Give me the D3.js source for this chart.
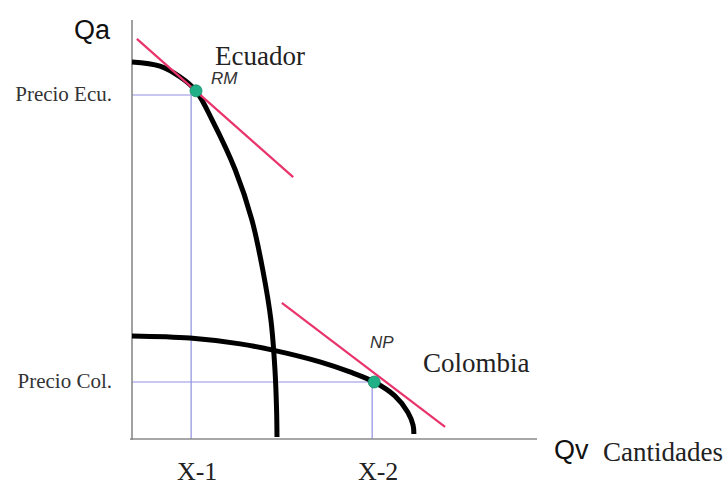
<!DOCTYPE html>
<html>
<head>
<meta charset="utf-8">
<script src="https://cdn.jsdelivr.net/npm/d3@7"></script>
<style>
  html, body { margin: 0; padding: 0; background: #ffffff; }
  svg { display: block; }
</style>
</head>
<body>
<svg id="chart" width="728" height="486"></svg>
<script>
// ---- Data (in abstract units: 0..100 on each axis) ----
const ecuadorCurve = [
  [0, 90.0], [6.9, 89.0], [11.9, 86.4], [15.8, 83.1], [19.8, 76.1],
  [25.5, 64.2], [29.6, 52.3], [32.3, 40.3], [34.3, 28.4],
  [35.3, 16.5], [35.7, 6.9], [35.8, 0.5]
];
const colombiaCurve = [
  [0, 24.6], [14.3, 24.1], [26.7, 22.7], [34.8, 21.2], [46.4, 18.4],
  [53.8, 16.0], [59.8, 13.6], [64.9, 10.3], [68.1, 6.4], [69.4, 3.3], [69.6, 1.2]
];
const priceLines = [
  { name: "Ecuador", from: [1.2, 95.5], to: [39.8, 62.5] },
  { name: "Colombia", from: [37.0, 32.5], to: [77.3, 2.9] }
];
const equilibriumPoints = [
  { label: "RM", x: 15.8, y: 83.1 },
  { label: "NP", x: 59.8, y: 13.6 }
];
const guideX = [14.6, 59.3];        // X-1, X-2
const guideY = [82.1, 13.6];        // Precio Ecu., Precio Col.
const xTickLabels = ["X-1", "X-2"];
const yTickLabels = ["Precio Ecu.", "Precio Col."];
const curveNames = ["Ecuador", "Colombia"];
const axisTitles = { y: "Qa", x: "Qv", xUnit: "Cantidades" };

// ---- Layout ----
const svg = d3.select("#chart");
const x = d3.scaleLinear().domain([0, 100]).range([132, 537]);
const y = d3.scaleLinear().domain([0, 100]).range([439, 20]);

const serif = "'Liberation Serif', 'Times New Roman', serif";
const sans = "'Liberation Sans', Arial, sans-serif";

// guides
const guideColor = "#8f8fe0";
guideX.forEach((gx, i) => {
  svg.append("line")
    .attr("x1", x(gx)).attr("x2", x(gx))
    .attr("y1", y(guideY[i])).attr("y2", y(0))
    .attr("stroke", guideColor).attr("stroke-width", 1.2);
  svg.append("line")
    .attr("x1", x(0)).attr("x2", x(gx))
    .attr("y1", y(guideY[i])).attr("y2", y(guideY[i]))
    .attr("stroke", guideColor).attr("stroke-width", 1.2);
});

// axes
svg.append("line")
  .attr("x1", x(0)).attr("x2", x(0)).attr("y1", y(100)).attr("y2", y(0) + 1)
  .attr("stroke", "#8a8a8a").attr("stroke-width", 1.6);
svg.append("line")
  .attr("x1", x(0) - 2).attr("x2", x(100)).attr("y1", y(0)).attr("y2", y(0))
  .attr("stroke", "#8a8a8a").attr("stroke-width", 1.6);

// curves
const line = d3.line().x(d => x(d[0])).y(d => y(d[1])).curve(d3.curveCatmullRom.alpha(0.5));
[ecuadorCurve, colombiaCurve].forEach(c => {
  svg.append("path").attr("d", line(c))
    .attr("fill", "none").attr("stroke", "#000").attr("stroke-width", 5)
    .attr("stroke-linecap", "butt");
});

// price lines
priceLines.forEach(p => {
  svg.append("line")
    .attr("x1", x(p.from[0])).attr("y1", y(p.from[1]))
    .attr("x2", x(p.to[0])).attr("y2", y(p.to[1]))
    .attr("stroke", "#e8336b").attr("stroke-width", 2.2);
});

// points
svg.selectAll("circle.pt").data(equilibriumPoints).enter().append("circle")
  .attr("class", "pt")
  .attr("cx", d => x(d.x)).attr("cy", d => y(d.y)).attr("r", 6)
  .attr("fill", "#1fb088").attr("stroke", "#128a66").attr("stroke-width", 0.8);

// point labels
svg.append("text").attr("x", 211).attr("y", 84)
  .attr("font-family", sans).attr("font-style", "italic").attr("font-size", 17)
  .attr("fill", "#333").text(equilibriumPoints[0].label);
svg.append("text").attr("x", 370).attr("y", 348)
  .attr("font-family", sans).attr("font-style", "italic").attr("font-size", 17)
  .attr("fill", "#333").text(equilibriumPoints[1].label);

// curve names
svg.append("text").attr("x", 215).attr("y", 65)
  .attr("font-family", serif).attr("font-size", 27).attr("fill", "#222").text(curveNames[0]);
svg.append("text").attr("x", 423).attr("y", 372)
  .attr("font-family", serif).attr("font-size", 27).attr("fill", "#222").text(curveNames[1]);

// y tick labels
yTickLabels.forEach((t, i) => {
  svg.append("text").attr("x", 112).attr("y", y(guideY[i]) + 6)
    .attr("text-anchor", "end")
    .attr("font-family", serif).attr("font-size", 21).attr("fill", "#333").text(t);
});
// x tick labels
xTickLabels.forEach((t, i) => {
  svg.append("text").attr("x", x(guideX[i]) + 6).attr("y", 480)
    .attr("text-anchor", "middle")
    .attr("font-family", serif).attr("font-size", 26).attr("fill", "#222").text(t);
});

// axis titles
svg.append("text").attr("x", 110).attr("y", 39).attr("text-anchor", "end")
  .attr("font-family", sans).attr("font-size", 27).attr("fill", "#111").text(axisTitles.y);
svg.append("text").attr("x", 554).attr("y", 459)
  .attr("font-family", sans).attr("font-size", 27).attr("fill", "#111").text(axisTitles.x);
svg.append("text").attr("x", 603).attr("y", 461)
  .attr("font-family", serif).attr("font-size", 27).attr("fill", "#222").text(axisTitles.xUnit);
</script>
</body>
</html>
